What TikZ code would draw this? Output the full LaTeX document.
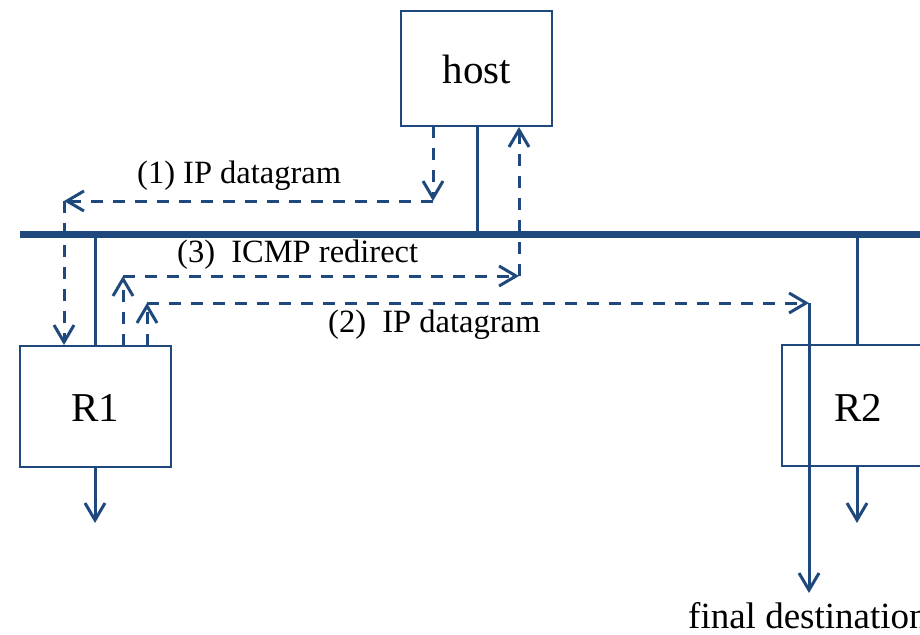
\documentclass[tikz,border=0pt]{standalone}
\usepackage{fontspec}
\setmainfont{Liberation Serif}
\usetikzlibrary{arrows.meta}
\definecolor{netblue}{HTML}{1F497D}
\tikzset{
  box/.style={draw=netblue, line width=1.5pt, minimum width=151pt, inner sep=0pt, font=\fontsize{41}{41}\selectfont},
  busline/.style={netblue, line width=7pt},
  wire/.style={netblue, line width=3pt},
  dashwire/.style={netblue, line width=3pt, dash pattern=on 12pt off 10pt},
  tip/.style={-{Straight Barb[length=17pt,width=20pt,line width=3pt]}},
  lbl/.style={anchor=base west, inner sep=0pt, font=\fontsize{32.5}{32.5}\selectfont},
}
\begin{document}
\begin{tikzpicture}[x=1pt,y=-1pt]
\useasboundingbox (0,0) rectangle (920,634);
\clip (0,0) rectangle (920,634);
% boxes
\node[box, minimum height=115pt] (host) at (476.5,68.5) {};
\node[box, minimum height=121pt] (R1) at (95.5,406.5) {};
\node[box, minimum height=121pt] (R2) at (857.5,405.5) {};
\node[inner sep=0pt, anchor=base, font=\fontsize{41}{41}\selectfont] (hostt) at (477,83) {host};
\node[inner sep=0pt, anchor=base, font=\fontsize{41}{41}\selectfont] (R1t) at (95,421) {R1};
\node[inner sep=0pt, anchor=base, font=\fontsize{41}{41}\selectfont] (R2t) at (858,421) {R2};
% bus
\coordinate (busL) at (20,234);
\coordinate (busR) at (930,234);
\draw[busline] (busL) -- (busR);
% attachments
\coordinate (hostbus) at (477,234);
\coordinate (R1bus) at (95,234);
\coordinate (R2bus) at (857,234);
\draw[wire] (host.south -| hostbus) -- (hostbus);
\draw[wire] (R1bus) -- (R1.north -| R1bus);
\draw[wire] (R2bus) -- (R2.north -| R2bus);
\coordinate (R1out) at (95,523);
\coordinate (R2out) at (857,523);
\draw[wire, tip] (R1.south -| R1out) -- (R1out);
\draw[wire, tip] (R2.south -| R2out) -- (R2out);
% (1) IP datagram
\coordinate (a1) at (433,126);
\coordinate (a2) at (433,201);
\coordinate (a3) at (64,201);
\coordinate (a4) at (64,345);
\draw[dashwire, tip] (a1) -- (a2);
\draw[dashwire, tip] (a2) -- (a3);
\draw[dashwire, tip] (a3) -- (a4);
% (3) ICMP redirect
\coordinate (c1) at (123,346);
\coordinate (c2) at (123,276);
\coordinate (c3) at (519,276);
\coordinate (c4) at (519,127);
\draw[dashwire, tip] (c1) -- (c2);
\draw[dashwire, tip] (c2) -- (c3);
\draw[dashwire, tip] (c3) -- (c4);
% (2) IP datagram
\coordinate (b1) at (147,346);
\coordinate (b2) at (147,303);
\coordinate (b3) at (809,303);
\coordinate (b4) at (809,593);
\draw[dashwire, tip] (b1) -- (b2);
\draw[dashwire, tip] (b2) -- (b3);
\draw[wire, tip] (b3) -- (b4);
% labels
\node[lbl] (l1) at (137,183) {(1) IP datagram};
\node[lbl] (l3) at (177,262) {(3)\ \ ICMP redirect};
\node[lbl] (l2) at (328,332) {(2)\ \ IP datagram};
\node[lbl, font=\fontsize{37}{37}\selectfont] (ld) at (688,628) {final destination};
\end{tikzpicture}
\end{document}
